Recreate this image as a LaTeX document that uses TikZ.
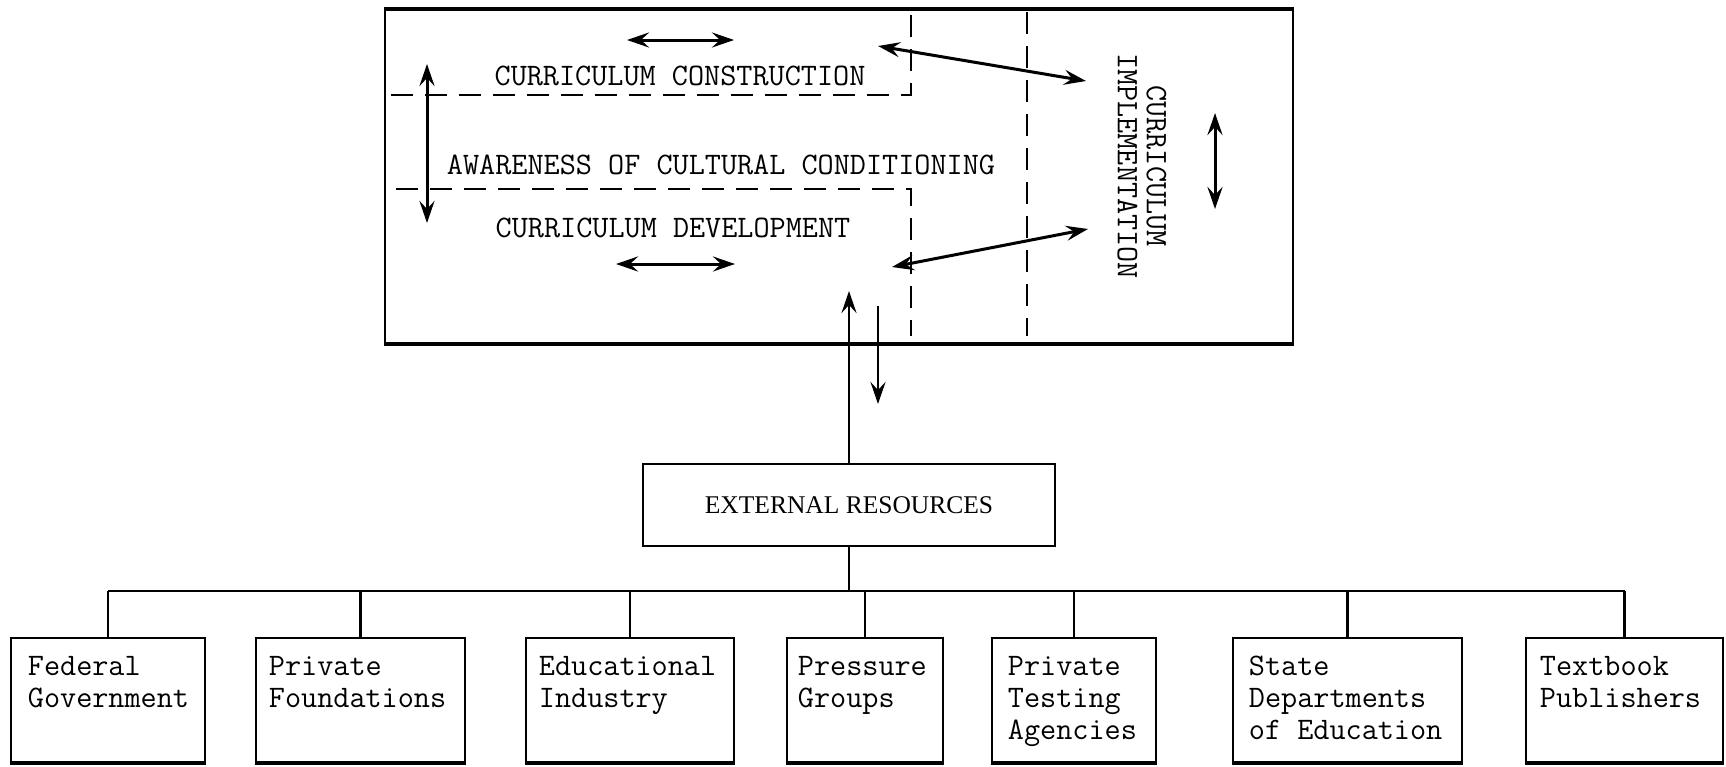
\documentclass[tikz,border=0pt]{standalone}
\usepackage{fontspec}
\newfontfamily\titleserif{Liberation Serif}
\usetikzlibrary{arrows.meta}
\begin{document}
\begin{tikzpicture}[x=1pt,y=-1pt,
  every node/.style={inner sep=0pt},
  heavy/.style={line width=4pt},
  divider/.style={line width=1.8pt, dash pattern=on 22pt off 12pt},
  flow/.style={line width=3pt, {Stealth[length=22pt,width=15pt,inset=8pt]}-{Stealth[length=22pt,width=15pt,inset=8pt]}},
  oneway/.style={line width=2.8pt, -{Stealth[length=22pt,width=15pt,inset=8pt]}},
  typed/.style={font=\ttfamily\fontsize{31.3}{32}\selectfont},
  orgbox/.style={draw, line width=2.6pt, minimum height=124pt},
  orgtext/.style={typed, align=left, anchor=north west},
  link/.style={line width=2.8pt}
]
\useasboundingbox (0,0) rectangle (1726,766);

% ---- curriculum frame ----
\node[draw, line width=2.6pt, minimum width=908pt, minimum height=333pt] (core) at (839,176.5) {};
\draw[heavy] (core.north west) -- (core.north east);
\draw[heavy] (core.south west) -- (core.south east);

% dashed partitions
\coordinate (upL) at (391,95);
\coordinate (upR) at (911,95);
\coordinate (upT) at (911,12);
\coordinate (loL) at (396,189);
\coordinate (loR) at (911,189);
\coordinate (loB) at (911,336);
\coordinate (impT) at (1027,12);
\coordinate (impB) at (1027,336);
\draw[divider] (upL) -- (upR) -- (upT);
\draw[divider] (loL) -- (loR) -- (loB);
\draw[divider] (impT) -- (impB);

% labels inside the frame
\node[typed] (construction) at (680,76) {CURRICULUM CONSTRUCTION};
\node[typed] (awareness) at (721,165) {AWARENESS OF CULTURAL CONDITIONING};
\node[typed] (development) at (673,228) {CURRICULUM DEVELOPMENT};
\node[font=\ttfamily\fontsize{31.3}{29}\selectfont, rotate=-90, align=center] (implementation) at (1142,166) {CURRICULUM\\IMPLEMENTATION};

% arrows inside the frame
\coordinate (ctA) at (627,40);   \coordinate (ctB) at (734,40);
\coordinate (dvA) at (616,264);  \coordinate (dvB) at (735,264);
\coordinate (awA) at (427,64);   \coordinate (awB) at (427,223);
\coordinate (d1A) at (878,46);   \coordinate (d1B) at (1086,81);
\coordinate (d2A) at (892,267);  \coordinate (d2B) at (1088,229);
\coordinate (imA) at (1215,113); \coordinate (imB) at (1215,209);
\draw[flow] (ctA) -- (ctB);
\draw[flow] (dvA) -- (dvB);
\draw[flow] (awA) -- (awB);
\draw[flow] (d1A) -- (d1B);
\draw[flow] (d2A) -- (d2B);
\draw[flow] (imA) -- (imB);

% ---- external resources ----
\node[draw, line width=2.6pt, minimum width=412pt, minimum height=82pt,
      font=\titleserif\fontsize{25.5}{30}\selectfont] (external) at (849,505) {EXTERNAL RESOURCES};
\coordinate (upEnd) at (849,291);
\coordinate (downStart) at (878,306);
\coordinate (downEnd) at (878,404);
\draw[oneway] (external.north) -- (upEnd);
\draw[oneway] (downStart) -- (downEnd);

% ---- resource boxes ----
\node[orgbox, minimum width=194pt] (fg)  at (108,700)  {};
\node[orgbox, minimum width=209pt] (pf)  at (360.5,700) {};
\node[orgbox, minimum width=208pt] (ei)  at (630,700)  {};
\node[orgbox, minimum width=156pt] (pg)  at (865,700)  {};
\node[orgbox, minimum width=164pt] (pta) at (1074,700) {};
\node[orgbox, minimum width=229pt] (sde) at (1347.5,700) {};
\node[orgbox, minimum width=197pt] (tp)  at (1624.5,700) {};

\foreach \b in {fg,pf,ei,pg,pta,sde,tp}
  \draw[heavy] (\b.south west) -- (\b.south east);

\node[orgtext] (fgT)  at ([xshift=18pt,yshift=-19pt]fg.north west)  {Federal\\Government};
\node[orgtext] (pfT)  at ([xshift=14pt,yshift=-19pt]pf.north west)  {Private\\Foundations};
\node[orgtext] (eiT)  at ([xshift=14pt,yshift=-19pt]ei.north west)  {Educational\\Industry};
\node[orgtext] (pgT)  at ([xshift=12pt,yshift=-19pt]pg.north west)  {Pressure\\Groups};
\node[orgtext] (ptaT) at ([xshift=17pt,yshift=-19pt]pta.north west) {Private\\Testing\\Agencies};
\node[orgtext] (sdeT) at ([xshift=17pt,yshift=-19pt]sde.north west) {State\\Departments\\of Education};
\node[orgtext] (tpT)  at ([xshift=15pt,yshift=-19pt]tp.north west)  {Textbook\\Publishers};

% bus from external resources to every box
\coordinate (bus) at (849,591);
\draw[link] (external.south) -- (bus);
\draw[link] (fg.north |- bus) -- (tp.north |- bus);
\foreach \b in {fg,pf,ei,pg,pta,sde,tp}
  \draw[link] (\b.north |- bus) -- (\b.north);
\end{tikzpicture}
\end{document}
